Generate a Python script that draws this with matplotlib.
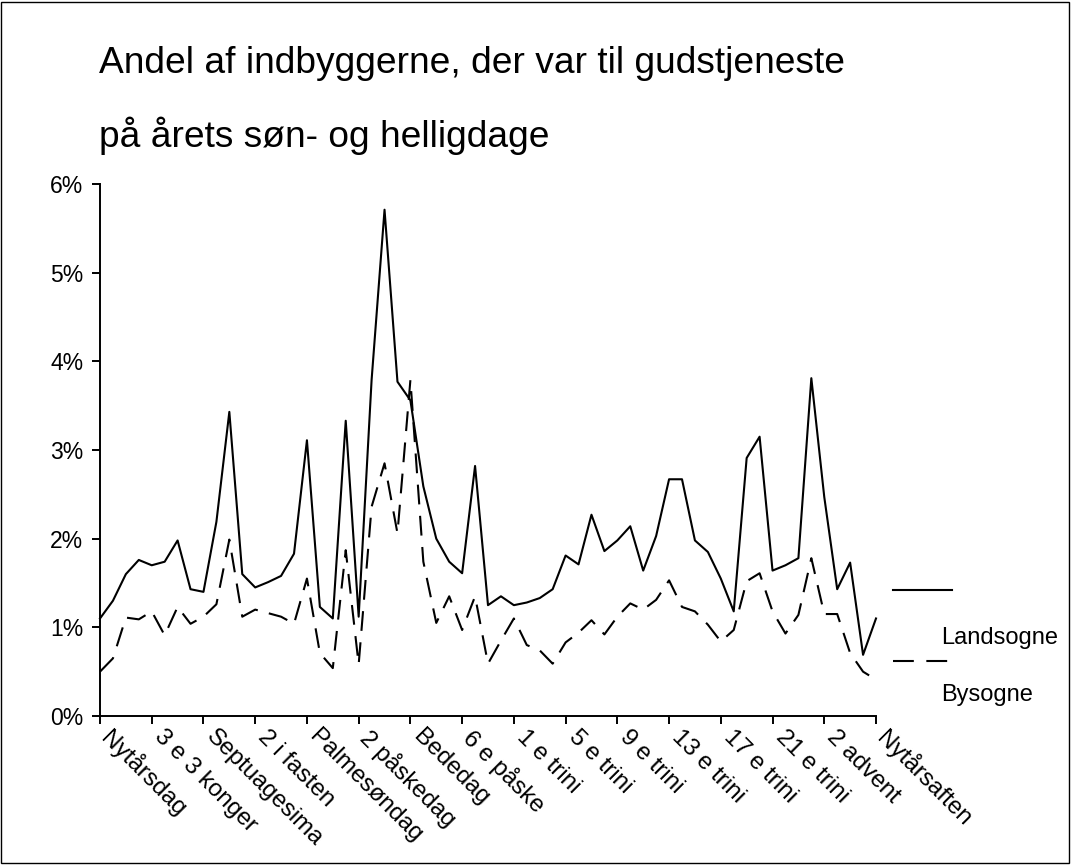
import matplotlib
matplotlib.use("Agg")

import matplotlib.pyplot as plt
from matplotlib.lines import Line2D
from matplotlib.patches import Rectangle
from matplotlib.ticker import PercentFormatter
from matplotlib.transforms import ScaledTranslation

plt.rcParams['font.family'] = ['Liberation Sans', 'DejaVu Sans']

# share of inhabitants at church service, percent (61 Sundays / holidays)
landsogne = [1.10, 1.30, 1.60, 1.76, 1.70, 1.74, 1.98, 1.43, 1.40, 2.19,
             3.43, 1.60, 1.45, 1.51, 1.58, 1.83, 3.11, 1.23, 1.10, 3.33,
             1.12, 3.79, 5.71, 3.77, 3.56, 2.59, 2.00, 1.74, 1.61, 2.82,
             1.25, 1.35, 1.25, 1.28, 1.33, 1.43, 1.81, 1.71, 2.27, 1.86,
             1.98, 2.14, 1.64, 2.03, 2.67, 2.67, 1.98, 1.85, 1.55, 1.18,
             2.91, 3.15, 1.64, 1.70, 1.78, 3.81, 2.47, 1.43, 1.73, 0.69,
             1.10]
bysogne = [0.50, 0.65, 1.11, 1.09, 1.18, 0.91, 1.23, 1.04, 1.12, 1.26,
           1.99, 1.12, 1.20, 1.16, 1.12, 1.04, 1.55, 0.71, 0.54, 1.87,
           0.58, 2.36, 2.85, 2.06, 3.79, 1.74, 1.05, 1.35, 0.97, 1.35,
           0.59, 0.85, 1.10, 0.80, 0.74, 0.59, 0.83, 0.94, 1.08, 0.92,
           1.12, 1.27, 1.20, 1.31, 1.53, 1.23, 1.18, 1.03, 0.84, 0.97,
           1.52, 1.61, 1.18, 0.93, 1.14, 1.78, 1.15, 1.15, 0.71, 0.50,
           0.41]
tick_labels = ["Nytårsdag", "3 e 3 konger", "Septuagesima", "2 i fasten",
               "Palmesøndag", "2 påskedag", "Bededag", "6 e påske",
               "1 e trini", "5 e trini", "9 e trini", "13 e trini",
               "17 e trini", "21 e trini", "2 advent", "Nytårsaften"]

W, H = 1071, 865
fig = plt.figure(figsize=(W / 100, H / 100), dpi=100)

# chart border
fig.patches.append(Rectangle((1 / W, 2 / H), (W - 3) / W, (H - 4) / H,
                             transform=fig.transFigure, fill=False,
                             edgecolor="black", linewidth=1))

ax = fig.add_axes([100 / W, 1 - 716 / H, 776 / W, 532 / H])
x = range(len(landsogne))
ax.plot(x, landsogne, color="black", linewidth=1.5, clip_on=False)
ax.plot(x, bysogne, color="black", linewidth=1.5, dashes=(9.5, 5.5),
        clip_on=False)

ax.set_xlim(0, len(landsogne) - 1)
ax.set_ylim(0, 6)
ax.set_yticks(range(7))
ax.yaxis.set_major_formatter(PercentFormatter(xmax=100, decimals=0))
ax.set_xticks(range(0, len(landsogne), 4))
ax.set_xticklabels(tick_labels, rotation=-45, ha="left", va="top",
                   rotation_mode="anchor")

for s in ["top", "right"]:
    ax.spines[s].set_visible(False)
for s in ["left", "bottom"]:
    ax.spines[s].set_linewidth(1.4)
ax.tick_params(axis="both", direction="out", length=5.5, width=1.4,
               colors="black")
ax.tick_params(axis="y", pad=6.5, labelsize=16.5)
ax.tick_params(axis="x", pad=3, labelsize=17.5)

# nudge the slanted labels right, like the original
shift = ScaledTranslation(14 / 100, 2 / 100, fig.dpi_scale_trans)
for lab in ax.get_xticklabels():
    lab.set_transform(lab.get_transform() + shift)

# title, two lines
fig.text(99 / W, 1 - 72.7 / H, "Andel af indbyggerne, der var til gudstjeneste",
         fontsize=26.7, va="baseline", ha="left")
fig.text(99 / W, 1 - 146.7 / H, "på årets søn- og helligdage",
         fontsize=26.7, va="baseline", ha="left")

# legend, drawn the way the original lays it out
fig.add_artist(Line2D([893 / W, 952 / W], [1 - 589.5 / H] * 2,
                      transform=fig.transFigure, color="black", linewidth=1.5))
fig.add_artist(Line2D([893 / W, 952 / W], [1 - 660.5 / H] * 2,
                      transform=fig.transFigure, color="black", linewidth=1.5,
                      dashes=(10, 6)))
fig.text(941 / W, 1 - 644 / H, "Landsogne", fontsize=17, va="baseline")
fig.text(941 / W, 1 - 701 / H, "Bysogne", fontsize=17, va="baseline")

fig.savefig("out.png", dpi=100)
